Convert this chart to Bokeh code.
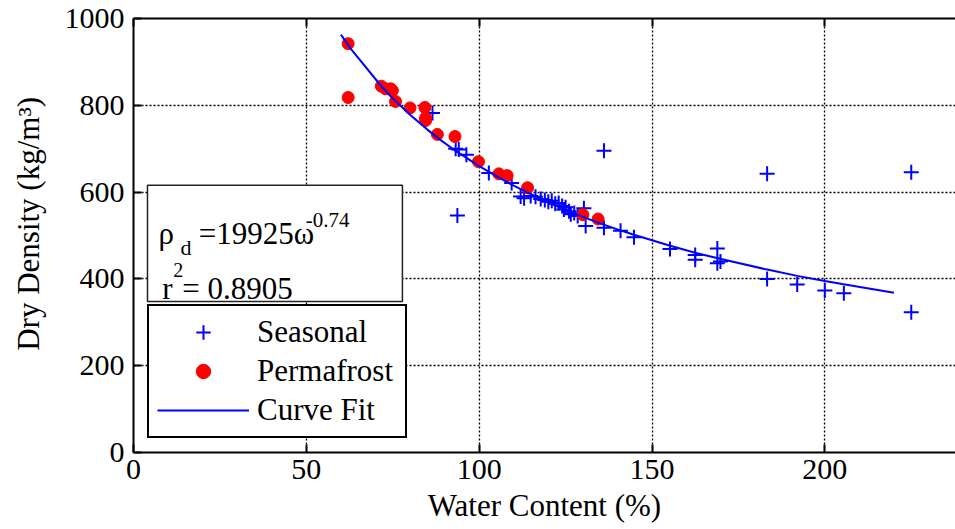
from bokeh.plotting import figure
from bokeh.models import (Range1d, LinearAxis, FixedTicker, Legend, LegendItem,
                          BoxAnnotation, Label)
from bokeh.embed import file_html
from bokeh.resources import INLINE

# ---------------- data ----------------
seasonal_x = [86.5, 93.2, 94.1, 96.3, 102.8, 109.4, 112.0, 113.0, 114.9, 116.3,
              117.8, 119.0, 120.0, 121.0, 122.0, 123.0, 124.0, 124.5, 125.0, 126.0,
              126.5, 127.5, 128.5, 130.3, 130.8, 136.1, 140.9, 144.8, 93.7, 136.1,
              155.2, 162.5, 162.5, 168.9, 168.9, 169.8, 183.3, 183.3, 192.0, 200.0,
              205.5, 225.0, 225.0]
seasonal_y = [782, 700, 698, 686, 644, 621, 590, 586, 591, 589,
              584, 582, 578, 580, 573, 575, 568, 560, 565, 556,
              549, 552, 545, 563, 522, 518, 511, 496, 546, 695,
              469, 455, 444, 470, 436, 440, 642, 400, 387, 373,
              367, 646, 323]

permafrost_x = [62.1, 62.1, 71.7, 72.9, 74.4, 74.9, 75.8, 80.0, 84.3, 84.5,
                84.5, 87.9, 93.0, 99.8, 105.7, 108.1, 114.0, 130.0, 134.4]
permafrost_y = [942, 818, 844, 838, 838, 834, 809, 794, 795, 771,
                765, 733, 728, 670, 642, 638, 610, 548, 538]

fit_x = [60, 63, 72, 75, 80, 85, 88, 93, 100, 106, 110, 115, 120, 125, 130,
         135, 140, 145, 155, 163, 170, 183, 192, 200, 205, 220]
fit_y = [963, 929, 841, 816, 778, 744, 725, 696, 660, 632, 615, 595, 576, 559, 543,
         528, 514, 501, 477, 459, 446, 422, 407, 395, 388, 368]

x_ticks = [0, 50, 100, 150, 200]
y_ticks = [0, 200, 400, 600, 800, 1000]

FONT = "Liberation Serif"

p = figure(width=955, height=529, frame_width=822, frame_height=434,
           x_range=Range1d(0, 237.8), y_range=Range1d(0, 1000),
           output_backend="svg", toolbar_location=None,
           min_border_left=133, min_border_right=0, min_border_top=18,
           min_border_bottom=77)
p.outline_line_color = None
p.background_fill_color = "white"
p.border_fill_color = "white"

# axes
for ax in (p.xaxis[0], p.yaxis[0]):
    ax.axis_line_width = 2
    ax.axis_line_color = "black"
    ax.major_tick_in = 8
    ax.major_tick_out = 0
    ax.major_tick_line_width = 2
    ax.minor_tick_line_color = None
    ax.major_label_text_font = FONT
    ax.major_label_text_font_size = "30px"
    ax.major_label_text_color = "black"
    ax.axis_label_text_font = FONT
    ax.axis_label_text_font_size = "31px"
    ax.axis_label_text_font_style = "normal"
    ax.axis_label_text_color = "black"

p.xaxis.ticker = FixedTicker(ticks=x_ticks)
p.yaxis.ticker = FixedTicker(ticks=y_ticks)
p.xaxis.axis_label = "Water Content (%)"
p.yaxis.axis_label = "\u00a0\u00a0\u00a0Dry Density (kg/m³)"
p.xaxis.major_label_standoff = 7
p.xaxis.axis_label_standoff = 6
p.yaxis.major_label_standoff = 9
p.yaxis.axis_label_standoff = 16

# top frame edge with inward ticks, no labels
top = LinearAxis(ticker=FixedTicker(ticks=x_ticks))
top.axis_line_width = 2
top.major_tick_in = 8
top.major_tick_out = 0
top.major_tick_line_width = 2
top.minor_tick_line_color = None
top.major_label_overrides = {t: "" for t in x_ticks}
top.major_label_standoff = 0
p.add_layout(top, "above")

# grid
p.xgrid.ticker = FixedTicker(ticks=[50, 100, 150, 200])
p.ygrid.ticker = FixedTicker(ticks=[200, 400, 600, 800])
for g in (p.xgrid[0], p.ygrid[0]):
    g.grid_line_color = "black"
    g.grid_line_dash = "2 2"
    g.grid_line_width = 1.3

# data
r_s = p.scatter(seasonal_x, seasonal_y, marker="cross", size=15,
                line_color="#0000FF", line_width=2)
r_p = p.scatter(permafrost_x, permafrost_y, marker="circle", size=12,
                fill_color="#FF0000", line_color="#FF0000")
r_c = p.line(fit_x, fit_y, line_color="#0000FF", line_width=2)

# equation box
box = BoxAnnotation(left=4.05, right=77.8, top=615.5, bottom=348,
                    fill_color="white", fill_alpha=1.0,
                    line_color="#222222", line_alpha=1.0, line_width=1.5)
p.add_layout(box)

def lab(x, y, t, size):
    p.add_layout(Label(x=x, y=y, text=t, text_font=FONT,
                       text_font_size=size, text_color="black",
                       text_baseline="alphabetic", text_align="left"))

lab(7.2, 504.6, "ρ", "31px")
lab(13.6, 473.5, "d", "22px")
lab(18.9, 504.6, "=19925ω", "31px")
lab(49.8, 534.6, "-0.74", "21px")
lab(8.3, 377.2, "r", "31px")
lab(11.5, 419.4, "2", "20px")
lab(14.1, 377.2, "= 0.8905", "31px")

# legend
legend = Legend(items=[LegendItem(label="Seasonal", renderers=[r_s]),
                       LegendItem(label="Permafrost", renderers=[r_p]),
                       LegendItem(label="Curve Fit", renderers=[r_c])],
                location=(14, 14))
legend.label_text_font = FONT
legend.label_text_font_size = "31px"
legend.label_text_color = "black"
legend.glyph_width = 92
legend.glyph_height = 36
legend.label_height = 36
legend.label_width = 140
legend.label_standoff = 8
legend.spacing = 3
legend.padding = 8
legend.margin = 0
legend.border_line_color = "black"
legend.border_line_alpha = 1.0
legend.border_line_width = 2
legend.background_fill_color = "white"
legend.background_fill_alpha = 1.0
p.add_layout(legend, "center")

open("out.html", "w").write(file_html(p, INLINE))
